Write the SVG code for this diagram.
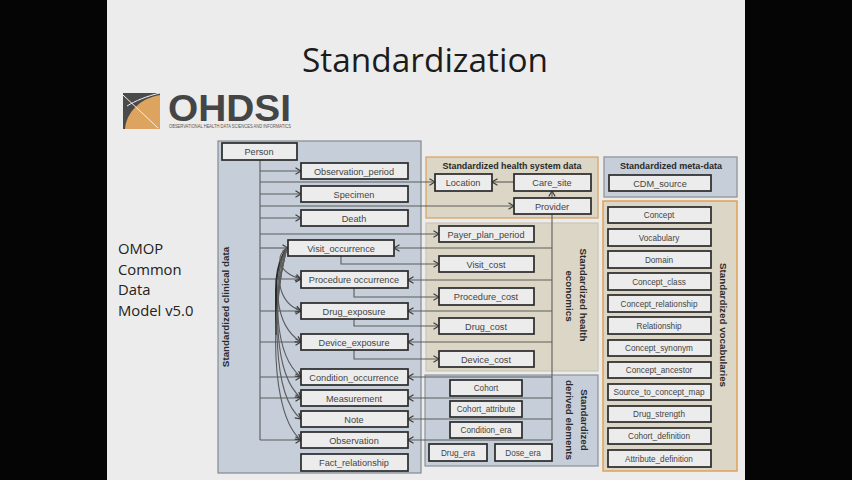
<svg xmlns="http://www.w3.org/2000/svg" width="852" height="480" viewBox="0 0 852 480">
<style>
text{font-family:"Liberation Sans","Open Sans",sans-serif;fill:#2b2b2b}
.n rect{fill:#ececec;stroke:#2a2a2a;stroke-width:1.7}
.n text{font-size:9.2px;text-anchor:middle;fill:#444}
.n .s{font-size:8.2px}
.h{font-size:9.8px;font-weight:bold;text-anchor:middle;fill:#2a2a2a}
.o{font-family:"Open Sans","Liberation Sans",sans-serif;font-size:14.8px;fill:#222}
.p{stroke-width:1.2}
.c path{fill:none;stroke:#5c5c5c;stroke-width:1.1}
.c .a{marker-end:url(#ah)}
.c .k{stroke:#2a2a2a;stroke-width:2}
</style>
<defs>
<marker id="ah" viewBox="0 0 7 8" refX="6.5" refY="4" markerWidth="7" markerHeight="8" markerUnits="userSpaceOnUse" orient="auto"><path d="M1 .8 6.5 4 1 7.2" fill="none" stroke="#3c3c3c" stroke-width="1.2"/></marker>
</defs>
<rect width="852" height="480" fill="#050505"/>
<rect x="107" y="0" width="638" height="480" fill="#ececec"/>
<text x="425" y="72" font-size="32" text-anchor="middle" style="font-family:'Open Sans','Liberation Sans',sans-serif;fill:#1c1c1c" textLength="246" lengthAdjust="spacingAndGlyphs">Standardization</text>
<g id="logo">
<rect x="123" y="93" width="37" height="36" fill="#4a4a4a"/>
<path d="M125 129C126 113 140 98 160 95V129Z" fill="#dca45e"/>
<path d="M123 95 158 128M127 106C135 101 147 96 160 93" fill="none" stroke="#f2f2f2" stroke-width="1"/>
<text x="168" y="121" font-size="37" font-weight="bold" style="fill:#454545" textLength="123" lengthAdjust="spacingAndGlyphs">OHDSI</text>
<text x="169" y="128" font-size="4.6" style="fill:#555" textLength="122" lengthAdjust="spacingAndGlyphs">OBSERVATIONAL HEALTH DATA SCIENCES AND INFORMATICS</text>
</g>
<g id="caption">
<text class="o" x="118" y="254">OMOP</text>
<text class="o" x="118" y="275">Common</text>
<text class="o" x="118" y="295">Data</text>
<text class="o" x="118" y="316">Model v5.0</text>
</g>
<g id="panels">
<rect id="panel-clinical" class="p" x="218" y="141" width="203" height="332" fill="#c5ced9" stroke="#858a90"/>
<rect id="panel-health-system" class="p" x="426" y="157" width="172" height="61" fill="#dbd6c5" stroke="#d9a05c"/>
<rect id="panel-economics" class="p" x="426" y="223" width="172" height="148" fill="#dbd6c5" stroke="#c9c6ba"/>
<rect id="panel-derived" class="p" x="425" y="375" width="173" height="91" fill="#c5ced9" stroke="#8d9299"/>
<rect id="panel-meta" class="p" x="604" y="157" width="133" height="40" fill="#c5ced9" stroke="#9a9ea3" style="stroke-width:1.5"/>
<rect id="panel-vocabularies" class="p" x="603" y="201" width="134" height="270" fill="#dbd6c5" stroke="#e0a056" style="stroke-width:1.5"/>
<text class="h" transform="translate(229 307) rotate(-90)">Standardized clinical data</text>
<text class="h" x="512" y="169" textLength="139" lengthAdjust="spacingAndGlyphs">Standardized health system data</text>
<text class="h" x="671" y="169" textLength="102" lengthAdjust="spacingAndGlyphs">Standardized meta-data</text>
<text class="h" transform="translate(580 295) rotate(90)">Standardized health</text>
<text class="h" transform="translate(566 296) rotate(90)">economics</text>
<text class="h" transform="translate(581 420) rotate(90)">Standardized</text>
<text class="h" transform="translate(566 420) rotate(90)">derived elements</text>
<text class="h" transform="translate(720 325) rotate(90)">Standardized vocabularies</text>
</g>
<g id="connectors" class="c">
<path d="M260 160V440"/>
<path class="a" d="M260 171H301"/>
<path class="a" d="M260 182H435"/>
<path class="a" d="M260 194H301"/>
<path class="a" d="M260 206H514"/>
<path class="a" d="M260 218H301"/>
<path class="a" d="M260 234H439"/>
<path class="a" d="M260 248H288"/>
<path class="a" d="M260 279H301"/>
<path class="a" d="M260 311H301"/>
<path class="a" d="M260 342H301"/>
<path class="a" d="M260 377H301"/>
<path class="a" d="M260 398H301"/>
<path class="a" d="M260 440H301"/>
<path class="a" d="M514 182H492"/>
<path class="a" d="M552 214V191"/>
<path d="M552 214V440"/>
<path class="a" d="M552 248H394"/>
<path class="a" d="M552 280H408"/>
<path class="a" d="M552 311H408"/>
<path class="a" d="M552 342H408"/>
<path class="a" d="M552 377H408"/>
<path class="a" d="M552 398H408"/>
<path class="a" d="M552 419H408"/>
<path class="a" d="M552 440H408"/>
<path class="a" d="M341 256V264H439"/>
<path class="a" d="M354 288V297H439"/>
<path class="a" d="M354 319V326H439"/>
<path class="a" d="M354 350V359H439"/>
<path class="k" d="M287 248C280 258 276 272 276 290V335"/>
<path class="a" d="M287 248C276 254 276 272 301 279"/>
<path class="a" d="M287 248C274 270 276 302 301 311"/>
<path class="a" d="M287 248C272 280 274 325 301 342"/>
<path class="a" d="M287 248C272 290 274 355 301 377"/>
<path class="a" d="M287 248C272 300 274 375 301 398"/>
<path class="a" d="M287 248C272 305 272 395 301 419"/>
<path class="a" d="M287 248C270 310 270 415 301 440"/>
</g>
<g id="person" class="n"><rect x="222" y="143" width="75" height="17"/><text x="259" y="155">Person</text></g>
<g id="observation-period" class="n"><rect x="301" y="163" width="107" height="16"/><text x="354" y="175">Observation_period</text></g>
<g id="specimen" class="n"><rect x="301" y="186" width="107" height="16"/><text x="354" y="198">Specimen</text></g>
<g id="death" class="n"><rect x="301" y="210" width="107" height="16"/><text x="354" y="222">Death</text></g>
<g id="visit-occurrence" class="n"><rect x="288" y="240" width="106" height="16"/><text x="341" y="252">Visit_occurrence</text></g>
<g id="procedure-occurrence" class="n"><rect x="301" y="271" width="107" height="17"/><text x="354" y="283">Procedure occurrence</text></g>
<g id="drug-exposure" class="n"><rect x="301" y="303" width="107" height="16"/><text x="354" y="315">Drug_exposure</text></g>
<g id="device-exposure" class="n"><rect x="301" y="334" width="107" height="16"/><text x="354" y="346">Device_exposure</text></g>
<g id="condition-occurrence" class="n"><rect x="301" y="369" width="107" height="16"/><text x="354" y="381">Condition_occurrence</text></g>
<g id="measurement" class="n"><rect x="301" y="390" width="107" height="16"/><text x="354" y="402">Measurement</text></g>
<g id="note" class="n"><rect x="301" y="411" width="107" height="16"/><text x="354" y="423">Note</text></g>
<g id="observation" class="n"><rect x="301" y="432" width="107" height="16"/><text x="354" y="444">Observation</text></g>
<g id="fact-relationship" class="n"><rect x="301" y="454" width="107" height="17"/><text x="354" y="466">Fact_relationship</text></g>
<g id="location" class="n"><rect x="435" y="174" width="57" height="17"/><text x="463" y="186">Location</text></g>
<g id="care-site" class="n"><rect x="514" y="174" width="77" height="17"/><text x="552" y="186">Care_site</text></g>
<g id="provider" class="n"><rect x="514" y="198" width="77" height="16"/><text x="552" y="210">Provider</text></g>
<g id="payer-plan-period" class="n"><rect x="439" y="226" width="95" height="16"/><text x="486" y="238">Payer_plan_period</text></g>
<g id="visit-cost" class="n"><rect x="439" y="256" width="95" height="16"/><text x="486" y="268">Visit_cost</text></g>
<g id="procedure-cost" class="n"><rect x="439" y="288" width="95" height="17"/><text x="486" y="300">Procedure_cost</text></g>
<g id="drug-cost" class="n"><rect x="439" y="318" width="95" height="16"/><text x="486" y="330">Drug_cost</text></g>
<g id="device-cost" class="n"><rect x="439" y="351" width="95" height="16"/><text x="486" y="363">Device_cost</text></g>
<g id="cohort" class="n"><rect x="450" y="380" width="72" height="16"/><text class="s" x="486" y="391">Cohort</text></g>
<g id="cohort-attribute" class="n"><rect x="450" y="401" width="72" height="16"/><text class="s" x="486" y="412">Cohort_attribute</text></g>
<g id="condition-era" class="n"><rect x="450" y="422" width="72" height="16"/><text class="s" x="486" y="433">Condition_era</text></g>
<g id="drug-era" class="n"><rect x="429" y="444" width="58" height="17"/><text class="s" x="458" y="456">Drug_era</text></g>
<g id="dose-era" class="n"><rect x="495" y="444" width="57" height="17"/><text class="s" x="523" y="456">Dose_era</text></g>
<g id="cdm-source" class="n"><rect x="609" y="175" width="102" height="16"/><text x="660" y="187">CDM_source</text></g>
<g id="concept" class="n"><rect x="608" y="207" width="103" height="16"/><text class="s" x="659" y="218">Concept</text></g>
<g id="vocabulary" class="n"><rect x="608" y="229" width="103" height="17"/><text class="s" x="659" y="241">Vocabulary</text></g>
<g id="domain" class="n"><rect x="608" y="251" width="103" height="17"/><text class="s" x="659" y="263">Domain</text></g>
<g id="concept-class" class="n"><rect x="608" y="273" width="103" height="17"/><text class="s" x="659" y="285">Concept_class</text></g>
<g id="concept-relationship" class="n"><rect x="608" y="295" width="103" height="17"/><text class="s" x="659" y="307">Concept_relationship</text></g>
<g id="relationship" class="n"><rect x="608" y="317" width="103" height="17"/><text class="s" x="659" y="329">Relationship</text></g>
<g id="concept-synonym" class="n"><rect x="608" y="340" width="103" height="16"/><text class="s" x="659" y="351">Concept_synonym</text></g>
<g id="concept-ancestor" class="n"><rect x="608" y="362" width="103" height="16"/><text class="s" x="659" y="373">Concept_ancestor</text></g>
<g id="source-to-concept-map" class="n"><rect x="608" y="384" width="103" height="16"/><text class="s" x="659" y="395">Source_to_concept_map</text></g>
<g id="drug-strength" class="n"><rect x="608" y="406" width="103" height="16"/><text class="s" x="659" y="417">Drug_strength</text></g>
<g id="cohort-definition" class="n"><rect x="608" y="428" width="103" height="16"/><text class="s" x="659" y="439">Cohort_definition</text></g>
<g id="attribute-definition" class="n"><rect x="608" y="450" width="103" height="17"/><text class="s" x="659" y="462">Attribute_definition</text></g>
</svg>
